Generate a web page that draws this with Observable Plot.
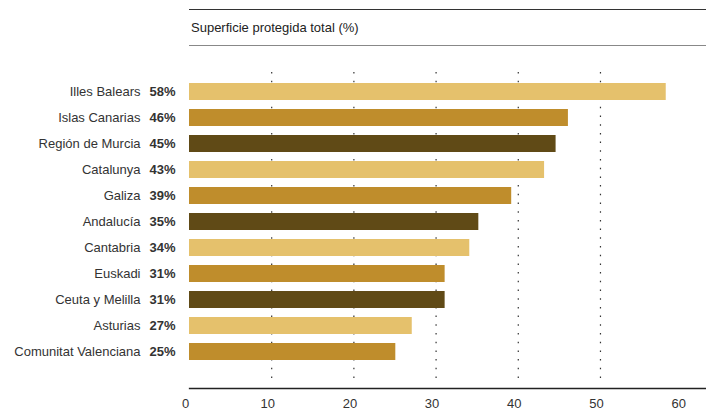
<!DOCTYPE html>
<html><head><meta charset="utf-8">
<script src="https://cdn.jsdelivr.net/npm/d3@7"></script>
<script src="https://cdn.jsdelivr.net/npm/@observablehq/plot@0.6"></script>
<style>
body{margin:0;background:#fff;font-family:"Liberation Sans",Arial,sans-serif;}
#wrap{position:relative;width:706px;height:410px;}
#title{position:absolute;left:189px;top:9px;width:517px;height:37px;border-top:1.5px solid #333;border-bottom:1.5px solid #888;box-sizing:border-box;font-size:13px;color:#222;line-height:35px;padding-left:2px;}
#chart{position:absolute;left:0;top:50px;}
</style></head>
<body><div id="wrap"><div id="title">Superficie protegida total (%)</div><div id="chart"></div></div>
<script>
const regions = ["Illes Balears","Islas Canarias","Región de Murcia","Catalunya","Galiza","Andalucía","Cantabria","Euskadi","Ceuta y Melilla","Asturias","Comunitat Valenciana"];
const values = [58.0,46.1,44.6,43.2,39.2,35.2,34.1,31.1,31.1,27.1,25.1];
const labels = ["58%","46%","45%","43%","39%","35%","34%","31%","31%","27%","25%"];
const palette = ["#e5c16c","#bf8d2c","#604a16"];
const xTicks = [0,10,20,30,40,50,60];
const gridTicks = [10,20,30,40,50];

const data = regions.map((r,i)=>({region:r, value:values[i], label:labels[i], tone:i%3}));

const chart = Plot.plot({
  width:706, height:360,
  marginLeft:189, marginRight:0, marginTop:22, marginBottom:22,
  style:{fontFamily:"'Liberation Sans', Arial, sans-serif", fontSize:"13px", color:"#222", overflow:"visible"},
  x:{domain:[0,62.9], axis:null},
  y:{domain:regions, range:[31.5,311.5], paddingInner:0.354, paddingOuter:0, axis:null},
  color:{domain:[0,1,2], range:palette},
  marks:[
    Plot.ruleX(gridTicks,{stroke:"#333", strokeWidth:1.2, strokeDasharray:"1.5,7.2", insetBottom:5}),
    Plot.barX(data,{x:"value", y:"region", fill:d=>d.tone}),
    Plot.text(data,{y:"region", text:"region", frameAnchor:"left", textAnchor:"end", dx:-49, fill:"#333", fontSize:13}),
    Plot.text(data,{y:"region", text:"label", frameAnchor:"left", textAnchor:"end", dx:-14, fill:"#333", fontSize:13, fontWeight:"bold"}),
    Plot.frame({anchor:"bottom", stroke:"#222", strokeWidth:1.3}),
    Plot.axisX(xTicks,{tickSize:0, tickPadding:10, dx:-4, fontSize:13, fill:"#333", label:null, tickFormat:d=>String(d)})
  ]
});
document.getElementById("chart").appendChild(chart);
</script></body></html>
